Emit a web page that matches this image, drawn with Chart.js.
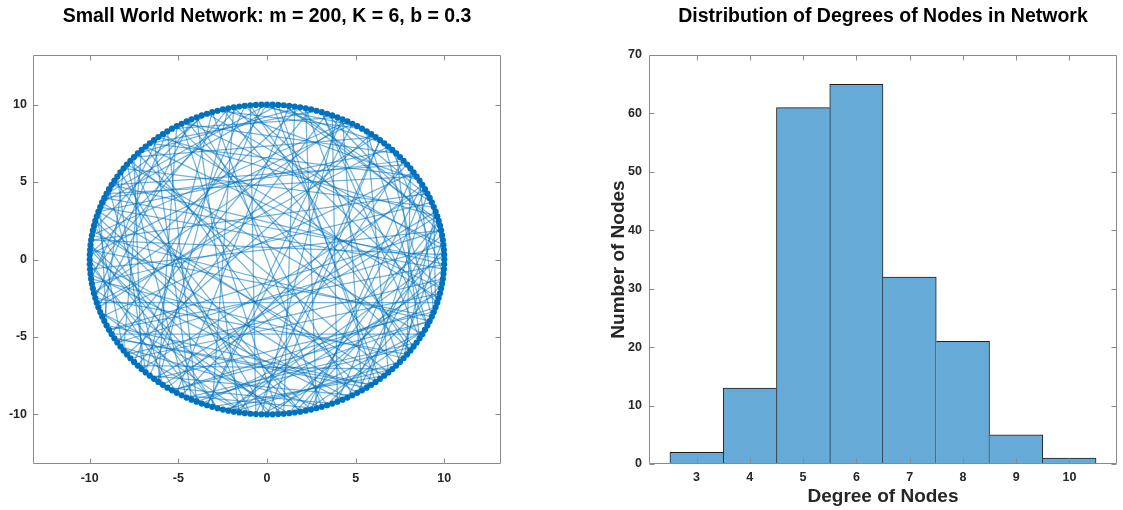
<!DOCTYPE html>
<html lang="en">
<head>
<meta charset="UTF-8">
<title>Small World Network</title>
<script src="https://cdn.jsdelivr.net/npm/chart.js@4"></script>
<style>
  html, body { margin: 0; padding: 0; background: #fff; }
  #wrap { position: relative; width: 1123px; height: 510px; }
  canvas { position: absolute; top: 0; }
  #net { left: 0; }
  #hist { left: 561px; }
</style>
</head>
<body>
<div id="wrap">
  <canvas id="net" width="561" height="510"></canvas>
  <canvas id="hist" width="562" height="510"></canvas>
</div>
<script>
// network, as given in the title
const nodeCount = 200;
const nearNeighbours = 6;
const ringRadius = 10;
// rewired long links (node index pairs)
const shortcuts = [
  [0,87],[1,143],[2,61],[3,118],[4,176],[5,39],[6,102],[8,154],[9,71],[10,128],
  [11,190],[12,47],[14,96],[15,163],[16,131],[17,58],[19,112],[20,179],[21,84],[22,145],
  [24,66],[25,197],[26,109],[28,150],[29,77],[30,121],[31,186],[33,52],[34,139],[35,95],
  [36,168],[38,13],[39,124],[40,183],[41,73],[43,159],[44,107],[45,7],[46,133],[48,88],
  [49,172],[50,116],[51,27],[53,148],[54,194],[55,99],[56,140],[58,181],[59,32],[60,126],
  [61,85],[63,166],[64,110],[65,3],[66,152],[68,37],[69,137],[70,192],[71,104],[73,18],
  [74,161],[75,120],[76,44],[78,174],[79,135],[80,11],[81,93],[83,156],[84,199],[85,130],
  [86,50],[88,171],[89,114],[90,25],[91,158],[93,141],[94,62],[95,187],[96,1],[98,147],
  [99,34],[100,165],[101,138],[103,57],[104,178],[105,12],[106,153],[108,69],[109,191],[110,29],
  [111,146],[113,80],[114,170],[115,6],[116,184],[118,42],[119,160],[120,91],[121,196],[123,54],
  [124,175],[125,15],[126,82],[128,189],[129,67],[130,9],[131,162],[133,100],[134,21],[135,182],
  [136,72],[138,193],[139,36],[140,173],[141,97],[143,5],[144,177],[145,63],[146,119],[148,28],
  [149,185],[150,81],[151,198],[153,45],[154,111],[155,2],[156,92],[158,19],[159,134],[160,60],
  [161,195],[163,38],[164,103],[165,8],[166,127],[168,76],[169,14],[170,117],[171,48],[173,90],
  [174,31],[175,142],[176,65],[178,10],[179,108],[180,53],[181,136],[183,24],[184,79],[185,157],
  [186,40],[188,98],[189,17],[190,132],[191,56],[193,122],[194,74],[195,4],[196,144],[198,89],
  [199,115],[7,167],[18,86],[27,188],[37,149],[47,8],[57,129],[67,180],[77,125],[87,22],
  [97,151],[107,35],[117,169],[127,51],[137,187],[147,78],[157,16],[167,94],[177,43],[187,132]
];
const netTicks = [-10, -5, 0, 5, 10];

// degree histogram
const degrees = [3, 4, 5, 6, 7, 8, 9, 10];
const nodeCounts = [2, 13, 61, 65, 32, 21, 5, 1];
const countTicks = [0, 10, 20, 30, 40, 50, 60, 70];

const FONT = "'Liberation Sans', Arial, Helvetica, sans-serif";
const BLUE = '#0072bd';
const EDGE = 'rgba(0,114,189,0.55)';
Chart.defaults.font.family = FONT;

// nodes sit evenly on a circle (circular layout)
const nodeXY = [];
for (let k = 0; k < nodeCount; k++) {
  const t = 2 * Math.PI * k / nodeCount;
  nodeXY.push({ x: ringRadius * Math.cos(t), y: ringRadius * Math.sin(t) });
}
const links = [];
for (let i = 0; i < nodeCount; i++) {
  for (let s = 1; s <= nearNeighbours / 2; s++) links.push([i, (i + s) % nodeCount]);
}
shortcuts.forEach(p => links.push(p));
const edgePoints = [];
links.forEach(([a, b]) => edgePoints.push(nodeXY[a], nodeXY[b], { x: null, y: null }));

// MATLAB style box with inward ticks on all four sides
const frame = {
  id: 'frame',
  afterDraw(chart) {
    const { ctx, chartArea: a, scales: { x, y } } = chart;
    const L = Math.round(a.left) + 0.5, R = Math.round(a.right) - 0.5;
    const T = Math.round(a.top) + 0.5, B = Math.round(a.bottom) - 0.5;
    const len = 5;
    ctx.save();
    ctx.strokeStyle = '#8a8a8a';
    ctx.lineWidth = 1;
    ctx.beginPath();
    ctx.rect(L, T, R - L, B - T);
    x.ticks.forEach(t => {
      const px = Math.round(x.getPixelForValue(t.value)) + 0.5;
      ctx.moveTo(px, B); ctx.lineTo(px, B - len);
      ctx.moveTo(px, T); ctx.lineTo(px, T + len);
    });
    y.ticks.forEach(t => {
      const py = Math.round(y.getPixelForValue(t.value)) + 0.5;
      ctx.moveTo(L, py); ctx.lineTo(L + len, py);
      ctx.moveTo(R, py); ctx.lineTo(R - len, py);
    });
    ctx.stroke();
    ctx.restore();
  }
};

const tickFont = { size: 12.5, weight: 'bold', family: FONT };
const titleFont = { size: 19.5, weight: 'bold', family: FONT, lineHeight: 1.2 };

new Chart(document.getElementById('net'), {
  type: 'scatter',
  data: {
    datasets: [
      { data: nodeXY, pointRadius: 3.1, pointBackgroundColor: BLUE, pointBorderWidth: 0, showLine: false },
      {
        data: edgePoints, showLine: true, pointRadius: 0, borderWidth: 1.25,
        borderColor: EDGE, spanGaps: false,
        segment: { borderColor: () => EDGE }
      }
    ]
  },
  options: {
    responsive: false,
    animation: false,
    events: [],
    layout: { padding: { left: 0, right: 60, top: 0, bottom: 0 } },
    plugins: {
      legend: { display: false },
      tooltip: { enabled: false },
      title: {
        display: true, fullSize: false, color: '#000',
        text: 'Small World Network: m = 200, K = 6, b = 0.3',
        font: titleFont, padding: { top: 5, bottom: 26.6 }
      }
    },
    scales: {
      x: {
        type: 'linear', min: -13.2, max: 13.2,
        afterBuildTicks: s => { s.ticks = netTicks.map(v => ({ value: v })); },
        afterFit: s => { s.height = 46; },
        grid: { display: false, drawTicks: false }, border: { display: false },
        ticks: { font: tickFont, color: '#262626', padding: 7, maxRotation: 0 }
      },
      y: {
        type: 'linear', min: -13.2, max: 13.2,
        afterBuildTicks: s => { s.ticks = netTicks.map(v => ({ value: v })); },
        afterFit: s => { s.width = 33; },
        grid: { display: false, drawTicks: false }, border: { display: false },
        ticks: { font: tickFont, color: '#262626', padding: 6 }
      }
    }
  },
  plugins: [frame]
});

const last = nodeCounts.length - 1;
new Chart(document.getElementById('hist'), {
  type: 'bar',
  data: {
    datasets: [{
      data: degrees.map((d, i) => ({ x: d, y: nodeCounts[i] })),
      backgroundColor: '#66aad7',
      borderColor: '#1e1e1e',
      borderSkipped: false,
      borderWidth: c => {
        const i = c.dataIndex;
        return {
          top: 1, bottom: 0,
          left: (i === 0 || nodeCounts[i - 1] < nodeCounts[i]) ? 1 : 0,
          right: (i === last || nodeCounts[i] >= nodeCounts[i + 1]) ? 1 : 0
        };
      },
      barPercentage: 1,
      categoryPercentage: 1
    }]
  },
  options: {
    responsive: false,
    animation: false,
    events: [],
    layout: { padding: { left: 0, right: 6, top: 0, bottom: 0 } },
    plugins: {
      legend: { display: false },
      tooltip: { enabled: false },
      title: {
        display: true, fullSize: false, color: '#000',
        text: 'Distribution of Degrees of Nodes in Network',
        font: titleFont, padding: { top: 5, bottom: 26.6 }
      }
    },
    scales: {
      x: {
        type: 'linear', min: 2.107, max: 10.893, offset: false,
        afterBuildTicks: s => { s.ticks = degrees.map(v => ({ value: v })); },
        afterFit: s => { s.height = 46; },
        grid: { display: false, drawTicks: false }, border: { display: false },
        ticks: { font: tickFont, color: '#262626', padding: 6, maxRotation: 0 },
        title: {
          display: true, text: 'Degree of Nodes', color: '#262626',
          font: { size: 19, weight: 'bold', family: FONT, lineHeight: 1.2 },
          padding: { top: 0, bottom: 1.6 }
        }
      },
      y: {
        type: 'linear', min: 0, max: 70,
        afterBuildTicks: s => { s.ticks = countTicks.map(v => ({ value: v })); },
        afterFit: s => { s.width = 88; },
        grid: { display: false, drawTicks: false }, border: { display: false },
        ticks: { font: tickFont, color: '#262626', padding: 7 },
        title: {
          display: true, text: 'Number of Nodes', color: '#262626',
          font: { size: 19, weight: 'bold', family: FONT, lineHeight: 1.2 },
          padding: { top: 46.6, bottom: 0 }
        }
      }
    }
  },
  plugins: [frame]
});
</script>
</body>
</html>
